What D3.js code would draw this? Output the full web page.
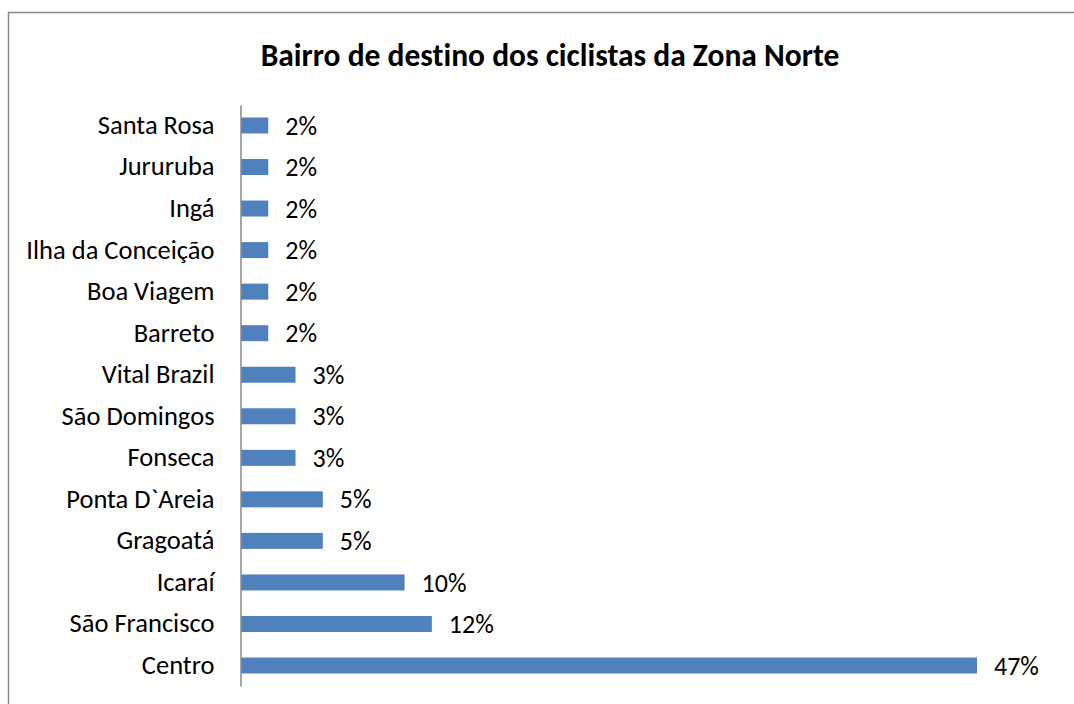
<!DOCTYPE html>
<html>
<head>
<meta charset="utf-8">
<script src="https://cdn.jsdelivr.net/npm/d3@7"></script>
<style>
  body { margin: 0; background: #fff; }
  svg { display: block; font-family: Carlito, Calibri, "Open Sans", sans-serif; font-variant-ligatures: none; }
</style>
</head>
<body>
<svg id="chart"></svg>
<script>
// bairros, de cima para baixo
const bairros = [
  "Santa Rosa", "Jururuba", "Ingá", "Ilha da Conceição", "Boa Viagem",
  "Barreto", "Vital Brazil", "São Domingos", "Fonseca", "Ponta D`Areia",
  "Gragoatá", "Icaraí", "São Francisco", "Centro"
];
// número de ciclistas por bairro
const ciclistas = [1, 1, 1, 1, 1, 1, 2, 2, 2, 3, 3, 6, 7, 27];
const titulo = "Bairro de destino dos ciclistas da Zona Norte";

const width = 1074, height = 704;
const total = d3.sum(ciclistas);
const data = bairros.map((b, i) => ({ bairro: b, n: ciclistas[i], p: ciclistas[i] / total }));

const svg = d3.select("#chart")
  .attr("width", width)
  .attr("height", height);

// moldura
svg.append("rect")
  .attr("x", 8.5).attr("y", 12.5)
  .attr("width", 1100).attr("height", 720)
  .attr("fill", "none")
  .attr("stroke", "#898989")
  .attr("stroke-width", 1.5);

svg.append("text")
  .attr("x", 550).attr("y", 66)
  .attr("text-anchor", "middle")
  .style("font-weight", "bold")
  .style("font-size", "31.5px")
  .text(titulo);

let x = d3.scaleLinear()
  .domain([0, d3.max(data, d => d.p)])
  .range([241, 977]);

let y = d3.scaleBand()
  .domain(bairros)
  .range([105, 686])
  .paddingInner(0.615)
  .paddingOuter(0.3);

svg.selectAll(".bar")
  .data(data)
  .enter().append("rect")
  .attr("class", "bar")
  .attr("x", x(0))
  .attr("y", d => y(d.bairro))
  .attr("width", d => x(d.p) - x(0))
  .attr("height", y.bandwidth())
  .style("fill", "#4f81bd");

svg.selectAll(".val")
  .data(data)
  .enter().append("text")
  .attr("class", "val")
  .attr("x", d => x(d.p) + 17)
  .attr("y", d => y(d.bairro) + y.bandwidth() / 2)
  .attr("dy", ".35em")
  .style("font-size", "26px")
  .text(d => d3.format(".0%")(d.p));

let axis = svg.append("g")
  .attr("transform", "translate(240.5,0)")
  .call(d3.axisLeft(y).tickSize(0).tickPadding(26));

axis.select(".domain").attr("stroke", "#898989").attr("stroke-width", 1.5);
axis.selectAll("text")
  .style("font-size", "26.5px")
  .style("font-family", "Carlito, Calibri, 'Open Sans', sans-serif")
  .attr("fill", "#000");
</script>
</body>
</html>
